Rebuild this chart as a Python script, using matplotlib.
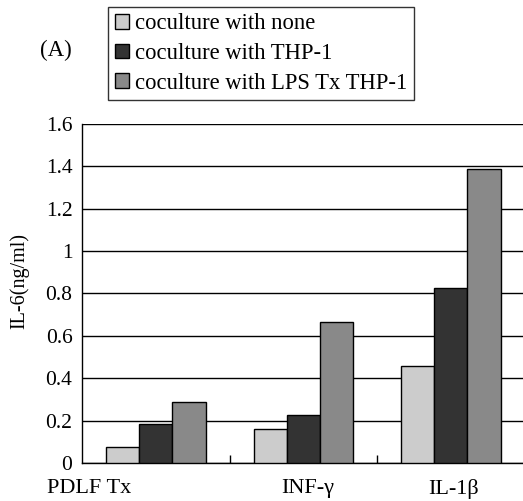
import numpy as np
import matplotlib.pyplot as plt

plt.rcParams['font.family'] = ['Liberation Serif', 'DejaVu Serif']

categories = ["PDLF Tx", "INF-\u03b3", "IL-1\u03b2"]
series = ["coculture with none", "coculture with THP-1", "coculture with LPS Tx THP-1"]
none_vals = [0.075, 0.16, 0.455]
thp1_vals = [0.185, 0.225, 0.825]
lps_vals = [0.288, 0.665, 1.387]
yticks = [0, 0.2, 0.4, 0.6, 0.8, 1, 1.2, 1.4, 1.6]
ytick_labels = ["0", "0.2", "0.4", "0.6", "0.8", "1", "1.2", "1.4", "1.6"]

colors = ["#cccccc", "#333333", "#898989"]

fig = plt.figure(figsize=(5.23, 5.01), dpi=100)
ax = fig.add_axes([0.157, 0.076, 0.846, 0.677])

x = np.arange(len(categories))
w = 0.225
handles = []
for i, (vals, c, lab) in enumerate(zip([none_vals, thp1_vals, lps_vals], colors, series)):
    b = ax.bar(x + (i - 1) * w, vals, w, color=c, edgecolor="black", linewidth=1.0,
               label=lab, zorder=3)
    handles.append(b)

ax.set_xlim(-0.5, 2.5)
ax.set_ylim(0, 1.6)
ax.set_yticks(yticks)
ax.set_yticklabels(ytick_labels, fontsize=15.5)
ax.tick_params(axis="y", length=0, pad=7)
ax.grid(axis="y", color="black", linewidth=1.0, zorder=0)

ax.set_xticks([])
ax.set_xticks([0.5, 1.5], minor=True)
ax.tick_params(axis="x", which="minor", direction="in", length=6, width=1.0)
for xi, lab in zip([-0.74, 1.03, 2.02], categories):
    ax.text(xi, -0.075, lab, ha="left" if xi < 0 else "center", va="top", fontsize=16)

ax.spines["top"].set_visible(False)
ax.spines["right"].set_visible(False)
ax.spines["left"].set_linewidth(1.0)
ax.spines["bottom"].set_linewidth(1.0)

ax.set_ylabel("IL-6(ng/ml)", fontsize=14.5)
ax.yaxis.set_label_coords(-0.119, 0.537)

fig.text(0.076, 0.9, "(A)", fontsize=16.5, ha="left", va="center")

fig.legend(handles=handles, loc="upper left", bbox_to_anchor=(0.207, 0.986),
           fontsize=16.3, frameon=True, fancybox=False, edgecolor="black",
           handlelength=0.65, handleheight=0.6, handletextpad=0.25,
           labelspacing=0.38, borderpad=0.28, borderaxespad=0)

fig.savefig("out.png", dpi=100)
